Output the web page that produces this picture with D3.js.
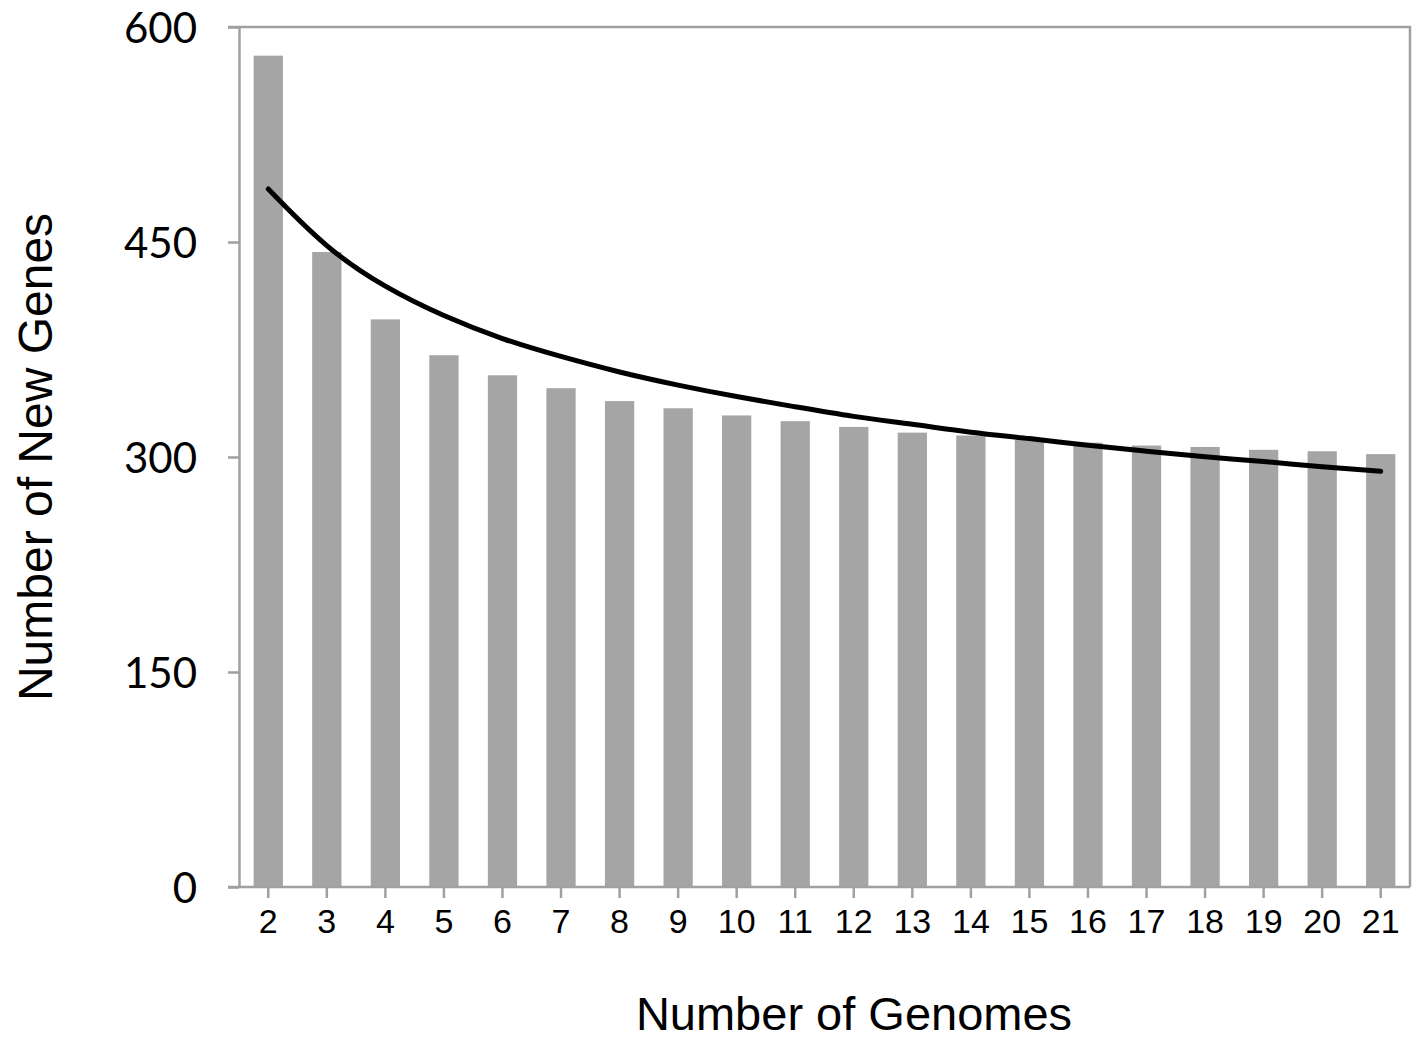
<!DOCTYPE html>
<html>
<head>
<meta charset="utf-8">
<script src="https://cdn.jsdelivr.net/npm/d3@7"></script>
<style>
  body { margin: 0; background: #fff; }
  svg { display: block; }
</style>
</head>
<body>
<div id="chart"></div>
<script>
// genomes added (x categories)
let genomes = [2,3,4,5,6,7,8,9,10,11,12,13,14,15,16,17,18,19,20,21];
// new genes per genome count (bars)
let newGenes = [580,443,396,371,357,348,339,334,329,325,321,317,315,312,310,308,307,305,304,302];
// trend curve at each category
let trendValues = [487,445,418,398,382,370,359,350,342,335,328,323,317,313,308,304,300,297,293,290];
let yTicks = [0,150,300,450,600];

let params = {
  width: 1413,
  height: 1040,
  margin: { left: 239, right: 3, top: 27, bottom: 153 }
};

let svg = d3.select("#chart").append("svg")
  .attr("width", params.width)
  .attr("height", params.height);

let x0 = params.margin.left,
    x1 = params.width - params.margin.right,
    y0 = params.height - params.margin.bottom,
    y1 = params.margin.top;

let scaleX = d3.scaleBand()
  .domain(genomes)
  .range([x0, x1])
  .paddingInner(0.5)
  .paddingOuter(0.25);

let scaleY = d3.scaleLinear()
  .domain([0, 600])
  .range([y0, y1]);

let axisColor = "#a0a0a0";

// frame (top and right)
svg.append("path")
  .attr("d", "M" + (x0 - 11) + "," + y1 + "H" + x1 + "V" + y0)
  .attr("fill", "none")
  .attr("stroke", axisColor)
  .attr("stroke-width", 2.5);

// bars
svg.append("g")
  .selectAll("rect")
  .data(genomes)
  .enter()
  .append("rect")
  .attr("x", d => scaleX(d))
  .attr("width", scaleX.bandwidth())
  .attr("y", (d, i) => scaleY(newGenes[i]))
  .attr("height", (d, i) => y0 - scaleY(newGenes[i]))
  .attr("fill", "#a5a5a5");

// trend line
let line = d3.line()
  .x((d, i) => scaleX(genomes[i]) + scaleX.bandwidth() / 2)
  .y(d => scaleY(d))
  .curve(d3.curveBasis);

svg.append("path")
  .datum(trendValues)
  .attr("d", line)
  .attr("fill", "none")
  .attr("stroke", "#000")
  .attr("stroke-width", 5)
  .attr("stroke-linecap", "round");

// y axis
let axisLeft = d3.axisLeft(scaleY)
  .tickValues(yTicks)
  .tickSize(11)
  .tickSizeOuter(0)
  .tickPadding(31);

let gy = svg.append("g")
  .attr("transform", "translate(" + x0 + ",0)")
  .call(axisLeft);
gy.select(".domain").attr("stroke", axisColor).attr("stroke-width", 2.5);
gy.selectAll(".tick line").attr("stroke", axisColor).attr("stroke-width", 2.5);
gy.selectAll(".tick text")
  .attr("fill", "#000")
  .style("font-family", "Lato, 'Open Sans', sans-serif")
  .style("font-size", "42px")
  .attr("dy", "0.36em");

// x axis
let axisBottom = d3.axisBottom(scaleX)
  .tickSize(11)
  .tickSizeOuter(0)
  .tickPadding(11);

let gx = svg.append("g")
  .attr("transform", "translate(0," + y0 + ")")
  .call(axisBottom);
gx.select(".domain")
  .attr("d", "M" + (x0 - 11) + ",0H" + x1)
  .attr("stroke", axisColor).attr("stroke-width", 2.5);
gx.selectAll(".tick line").attr("stroke", axisColor).attr("stroke-width", 2.5);
gx.selectAll(".tick text")
  .attr("fill", "#000")
  .style("font-family", "'Liberation Sans', Arial, sans-serif")
  .style("font-size", "34px");

// axis titles
svg.append("text")
  .text("Number of Genomes")
  .attr("text-anchor", "middle")
  .attr("x", 854)
  .attr("y", 1030)
  .style("font-family", "'Liberation Sans', Arial, sans-serif")
  .style("font-size", "47px");

svg.append("text")
  .text("Number of New Genes")
  .attr("text-anchor", "middle")
  .attr("transform", "translate(52,457) rotate(-90)")
  .style("font-family", "'Liberation Sans', Arial, sans-serif")
  .style("font-size", "48px");
</script>
</body>
</html>
